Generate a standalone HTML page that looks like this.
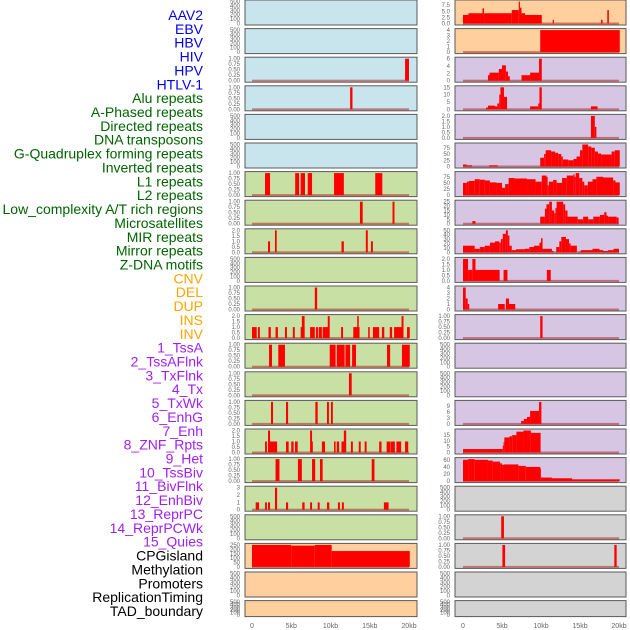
<!DOCTYPE html>
<html><head><meta charset="utf-8"><style>
html,body{margin:0;padding:0;background:#fff;}
svg{display:block;font-family:"Liberation Sans",sans-serif;}
</style></head><body>
<svg id="chart" width="630" height="630" viewBox="0 0 630 630" xmlns="http://www.w3.org/2000/svg"></svg>
<script>
const trackNames = ["AAV2","EBV","HBV","HIV","HPV","HTLV-1","Alu repeats","A-Phased repeats","Directed repeats","DNA transposons","G-Quadruplex forming repeats","Inverted repeats","L1 repeats","L2 repeats","Low_complexity A/T rich regions","Microsatellites","MIR repeats","Mirror repeats","Z-DNA motifs","CNV","DEL","DUP","INS","INV","1_TssA","2_TssAFlnk","3_TxFlnk","4_Tx","5_TxWk","6_EnhG","7_Enh","8_ZNF_Rpts","9_Het","10_TssBiv","11_BivFlnk","12_EnhBiv","13_ReprPC","14_ReprPCWk","15_Quies","CPGisland","Methylation","Promoters","ReplicationTiming","TAD_boundary"];
const trackGroups = ["virus","virus","virus","virus","virus","virus","repeat","repeat","repeat","repeat","repeat","repeat","repeat","repeat","repeat","repeat","repeat","repeat","repeat","sv","sv","sv","sv","sv","chrom","chrom","chrom","chrom","chrom","chrom","chrom","chrom","chrom","chrom","chrom","chrom","chrom","chrom","chrom","other","other","other","other","other"];
const groupLabelColors = {virus:"#0000ee",repeat:"#006400",sv:"#ffa500",chrom:"#a020f0",other:"#000000"};
const groupPanelColors = {virus:"#c8e4ec",repeat:"#c8e0a4",sv:"#ffd09e",chrom:"#d6c6e4",other:"#d3d3d3"};
// segments: [startKb, endKb, value]
const segAAV2=[],segEBV=[];
const segHBV=[[19.5,20.0,1]];
const segHIV=[[12.5,12.8,1]];
const segHPV=[],segHTLV=[];
const segAlu=[[1.66,2.3,1],[5.5,6.0,1],[6.2,6.75,1],[7.1,7.65,1],[10.45,11.7,1],[15.7,16.6,1]];
const segAPhased=[[13.75,14.1,1],[17.9,18.15,1]];
const segDirected=[[2.04,2.3,1],[2.93,3.15,2],[11.4,11.7,1],[14.5,14.75,2],[15.15,15.4,1]];
const segDNA=[];
const segGQuad=[[8.0,8.3,1]];
const segInverted=[[0,0.6,1],[0.76,1.0,1],[2.1,2.4,1],[3.0,3.3,1],[4.2,4.45,1],[5.2,5.45,1],[6.2,6.7,1],[6.35,6.7,2],[7.4,8.0,1],[8.15,8.4,1],[8.5,8.9,1],[9.0,9.7,1],[9.65,9.9,2],[11.35,11.6,1],[12.9,13.7,1],[13.4,13.6,2],[14.8,15.0,1],[15.4,16.2,1],[16.55,16.85,1],[17.55,17.85,1],[18.1,19.1,1],[19.05,19.3,2],[19.75,20.1,1]];
const segL1=[[2.17,2.55,1],[3.35,4.2,1],[9.9,10.65,1],[10.8,11.8,1],[11.9,12.5,1],[12.75,13.25,1],[17.2,17.6,1],[19.1,20.1,1]];
const segL2=[[12.35,12.7,1]];
const segLowComplex=[[2.42,2.68,1],[4.33,4.6,1],[8.07,8.37,1],[9.55,9.8,1],[10.06,10.3,1]];
const segMicro=[[1.66,1.9,1],[2.04,2.3,2],[2.2,3.2,1],[4.33,4.67,1],[5.0,5.3,1],[5.48,5.82,1],[7.4,7.65,2],[7.5,7.75,1],[8.9,9.3,1],[10.45,10.65,1],[10.8,11.1,1],[11.4,11.75,1],[11.7,12.0,2],[12.6,12.85,1],[13.6,13.85,1],[14.35,14.6,1],[16.2,16.5,1],[17.15,17.6,1],[17.65,18.2,1],[18.4,19.0,1],[19.5,19.9,1]];
const segMIR=[[3.0,3.5,1],[5.85,6.35,1],[7.65,8.05,1],[8.66,9.0,1],[15.25,15.6,1]];
const segMirror=[[0.47,0.9,1],[1.66,1.9,1],[2.04,2.3,1],[2.93,3.2,3],[4.33,4.6,1],[6.4,6.7,1],[7.4,7.65,1],[8.37,8.62,1],[9.55,9.85,1],[10.95,11.2,1],[11.45,11.7,1],[16.8,17.4,1]];
const segZDNA=[];
const segCNV=[[0,5.0,250],[5.0,8.0,242],[8.0,10.15,250],[10.15,20.1,180]];
const segDEL=[],segDUP=[];
const segINS=[[0,0.7,3.5],[0.7,2.5,4.2],[2.5,2.7,6.2],[2.7,6.25,4.2],[6.25,7.15,5.5],[7.15,7.3,9],[7.3,7.5,6.5],[7.5,7.95,4.2],[7.95,10.1,3.5],[11.5,11.65,1.5],[17.7,17.9,1.5],[18.5,18.7,5.5]];
const segINV=[[9.9,20.1,4]];
const segTssA=[[3.2,3.4,1.5],[3.4,4.6,2.2],[4.6,5.0,3.2],[5.0,5.5,4.2],[5.5,5.77,2.5],[5.77,6.0,1.2],[7.5,8.6,1.5],[8.6,9.75,2.2],[9.75,10.1,6]];
const segTssAFlnk=[[2.95,3.2,1.2],[3.2,4.1,2.5],[4.1,4.4,2],[4.4,4.65,4],[4.65,4.8,10],[4.8,5.25,15],[5.25,5.65,8.5],[8.6,9.65,2],[9.65,9.8,4],[9.8,10.1,15],[16.4,17.25,2]];
const segTxFlnk=[[16.4,16.9,2],[16.9,17.1,1]];
const segTx=[[0,0.47,8],[0.47,1.15,5],[3.35,4.45,5],[9.9,10.4,35],[10.4,10.6,50],[10.6,11.3,65],[11.3,11.8,60],[11.8,12.2,55],[12.2,12.6,50],[12.6,12.8,40],[12.8,13.5,28],[13.5,14.15,25],[14.15,14.55,30],[14.55,15.0,40],[15.0,15.3,65],[15.3,16.05,88],[16.05,16.45,80],[16.45,16.9,75],[16.9,17.3,60],[17.3,17.7,52],[17.7,19.05,48],[19.05,19.45,60],[19.45,20.1,65]];
const segTxWk=[[0,0.5,50],[0.5,0.75,55],[0.75,1.5,58],[1.5,2.15,65],[2.15,2.8,63],[2.8,3.45,60],[3.45,4.3,52],[4.3,5.0,50],[5.0,5.4,30],[5.4,5.85,45],[5.85,6.6,70],[6.6,8.2,68],[8.2,9.3,65],[9.3,10.1,55],[10.1,10.7,80],[10.7,10.85,75],[10.85,11.0,40],[11.0,11.55,55],[11.55,12.0,62],[12.0,12.7,50],[12.7,13.3,70],[13.3,14.15,80],[14.15,14.3,85],[14.3,14.45,75],[14.45,14.9,90],[14.9,15.3,70],[15.3,15.55,55],[15.55,16.0,40],[16.0,16.6,55],[16.6,17.1,65],[17.1,17.95,75],[17.95,19.25,72],[19.25,19.55,60],[19.55,20.1,52]];
const segEnhG=[[1.2,1.6,3],[9.9,10.5,8],[10.5,10.7,17],[10.7,11.05,22],[11.05,11.4,25],[11.4,11.7,15],[11.7,11.85,12],[11.85,12.0,18],[12.0,12.85,25],[12.85,13.1,22],[13.1,13.4,15],[13.4,14.7,8],[14.7,15.4,5],[15.4,16.05,8],[16.05,16.7,5],[16.7,17.55,8],[17.55,18.1,10],[18.1,18.4,13],[18.4,18.6,9],[18.6,19.7,8],[19.7,19.95,7]];
const segEnh=[[0,1.5,15],[1.5,2.15,8],[2.15,2.8,12],[2.8,3.45,15],[3.45,4.1,22],[4.1,4.65,25],[4.65,4.85,22],[4.85,5.1,30],[5.1,5.5,42],[5.5,5.75,50],[5.75,5.95,38],[5.95,6.25,15],[6.25,6.8,5],[6.8,7.9,7],[7.9,8.5,8],[8.5,9.1,12],[9.1,9.8,15],[9.8,10.0,22],[10.0,10.2,32],[10.2,11.4,8],[11.4,11.6,3],[11.95,12.35,12],[12.35,12.6,25],[12.6,13.2,35],[13.2,13.6,30],[13.6,13.8,20],[13.8,14.6,15],[14.9,15.1,2],[15.1,16.6,5],[16.6,17.5,8],[17.5,18.0,5],[18.0,18.6,3],[18.6,19.3,5],[19.3,20.0,8]];
const segZNF=[[0,0.65,2],[0.65,1.2,1],[1.2,1.6,2],[1.6,4.7,1],[5.2,5.7,1],[10.75,11.25,1]];
const segHet=[[0,0.35,4],[0.35,0.6,2],[0.6,0.8,1],[4.5,5.35,1],[5.5,5.9,2],[5.9,6.7,1]];
const segTssBiv=[[9.9,10.2,1]];
const segBivFlnk=[],segEnhBiv=[];
const segReprPC=[[7.45,7.8,1.5],[7.8,8.2,2.5],[8.2,8.6,3.5],[8.6,9.75,6.5],[9.75,10.05,11]];
const segReprPCWk=[[0,5.1,3],[5.1,5.2,6],[5.2,5.3,9],[5.3,5.95,13],[5.95,6.3,14],[6.3,6.85,15],[6.85,7.75,18],[7.75,8.7,19],[8.7,9.95,17]];
const segQuies=[[0,0.65,60],[0.65,1.5,62],[1.5,3.2,60],[3.2,3.8,58],[3.8,4.75,55],[4.75,5.0,50],[5.0,5.25,46],[5.25,7.1,47],[7.1,8.05,43],[8.05,9.9,40],[9.9,10.0,36],[10.0,11.4,10],[11.4,14.0,8],[14.0,20.1,5]];
const segCPG=[];
const segMethyl=[[4.9,5.25,1]];
const segPromoters=[[5.05,5.4,1],[19.4,19.7,1]];
const segRepTiming=[],segTAD=[];
const trackSegments=[segAAV2,segEBV,segHBV,segHIV,segHPV,segHTLV,segAlu,segAPhased,segDirected,segDNA,segGQuad,segInverted,segL1,segL2,segLowComplex,segMicro,segMIR,segMirror,segZDNA,segCNV,segDEL,segDUP,segINS,segINV,segTssA,segTssAFlnk,segTxFlnk,segTx,segTxWk,segEnhG,segEnh,segZNF,segHet,segTssBiv,segBivFlnk,segEnhBiv,segReprPC,segReprPCWk,segQuies,segCPG,segMethyl,segPromoters,segRepTiming,segTAD];
const T500=["0","100","200","300","400","500"], T1=["0.00","0.25","0.50","0.75","1.00"], T2=["0.0","0.5","1.0","1.5","2.0"];
const trackTicks=[T500,T500,T1,T1,T500,T500,T1,T1,T2,T500,T1,T2,T1,T1,T1,T2,T1,["0","1","2","3"],T500,["0","50","100","150","200","250"],T500,T500,
 ["0.0","2.5","5.0","7.5"],["0","1","2","3","4"],["0","2","4","6"],["0","5","10","15"],T2,["0","25","50","75"],["0","25","50","75"],["0","5","10","15","20","25"],["0","10","20","30","40","50"],T2,["0","1","2","3","4"],T1,T500,T500,["0","3","6","9"],["0","5","10","15"],["0","20","40","60"],T500,T1,T1,T500,T500];
const xTickKb=[0,5,10,15,20];
const xTickLabels=["0","5kb","10kb","15kb","20kb"];

const NS="http://www.w3.org/2000/svg";
const svg=document.getElementById('chart');
function mk(tag,attrs,parent){const e=document.createElementNS(NS,tag);for(const k in attrs)e.setAttribute(k,attrs[k]);(parent||svg).appendChild(e);return e;}

// labels
trackNames.forEach((n,i)=>{
  const t=mk('text',{x:203,y:15+i*13.86+5,'text-anchor':'end','font-size':'14',fill:groupLabelColors[trackGroups[i]]});
  
  
  t.textContent=n;
});

const cols=[{x0:245,x1:417,z:252,s:7.85,tx:240},{x0:455,x1:626,z:463,s:7.8,tx:450}];
trackNames.forEach((n,i)=>{
  const c=cols[i<22?0:1], row=i%22;
  const top=row*28.6, h=row===21?16:25, bot=top+h;
  const g=mk('g',{});
  
  
  mk('rect',{x:c.x0,y:top,width:c.x1-c.x0,height:h,fill:groupPanelColors[trackGroups[i]],stroke:'#5a5a5a','stroke-width':1},g);
  const ticks=trackTicks[i];
  const segs=trackSegments[i];
  let dmax=parseFloat(ticks[ticks.length-1]);
  segs.forEach(s=>{if(s[2]>dmax)dmax=s[2];});
  const yb=bot-1.5, yt=top+1.5;
  const yS=v=>yb-(v/dmax)*(yb-yt);
  const xS=kb=>c.z+kb*c.s;
  ticks.forEach(t=>{
    const tt=mk('text',{x:c.tx,y:yS(parseFloat(t))+2,'text-anchor':'end','font-size':'6',fill:'#666'},g);
    
    
    tt.textContent=t;
  });
  if(segs.length){
    const bl=mk('rect',{x:xS(0),y:yb-1,width:xS(20)-xS(0),height:2,fill:'rgba(170,0,0,0.45)'},g);
    
    
  }
  segs.forEach(s=>{
    const r=mk('rect',{x:xS(s[0]),y:yS(s[2]),width:Math.max(0.8,xS(s[1])-xS(s[0])),height:yb-yS(s[2]),fill:'#ff0000'},g);
    
    
  });
});
cols.forEach((c,ci)=>{
  xTickKb.forEach((k,j)=>{
    const t=mk('text',{x:c.z+k*c.s,y:628,'text-anchor':'middle','font-size':'7',fill:'#666'});
    
    
    t.textContent=xTickLabels[j];
  });
});
</script>
</body></html>
